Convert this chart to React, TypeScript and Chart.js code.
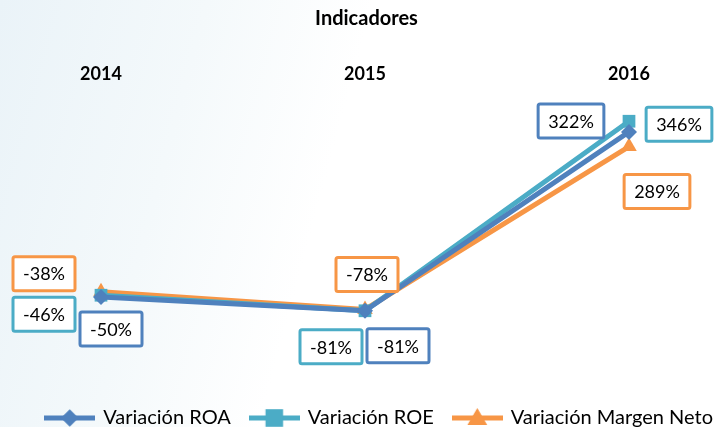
import React, { useEffect, useRef } from "react";
import { Chart, registerables } from "chart.js";

Chart.register(...registerables);

const categories = ["2014", "2015", "2016"];
const roa = [-50, -81, 322];
const roe = [-46, -81, 346];
const margenNeto = [-38, -78, 289];
const seriesNames = ["Variación ROA", "Variación ROE", "Variación Margen Neto"];

const COLORS = ["#4F81BD", "#4BACC6", "#F79646"];
const FONT = "Lato, 'Open Sans', sans-serif";

// label offsets (dx, dy) from each point, per series
const labelOffsets = [
  [[10, 32], [33, 35], [-58, -11]],
  [[-57, 19], [-34, 36], [50, 3]],
  [[-57, -18], [2, -35], [28, 45]],
];

function drawMarker(ctx: CanvasRenderingContext2D, kind: number, x: number, y: number, color: string, s = 1) {
  ctx.fillStyle = color;
  ctx.beginPath();
  if (kind === 0) {
    const r = 8 * s;
    ctx.moveTo(x, y - r);
    ctx.lineTo(x + r, y);
    ctx.lineTo(x, y + r);
    ctx.lineTo(x - r, y);
  } else if (kind === 1) {
    const r = 8 * s;
    ctx.rect(x - r, y - r, 2 * r, 2 * r);
  } else {
    const r = 9 * s;
    ctx.moveTo(x, y - r);
    ctx.lineTo(x + r, y + r * 0.7);
    ctx.lineTo(x - r, y + r * 0.7);
  }
  ctx.closePath();
  ctx.fill();
}

function legendIcon(kind: number, color: string) {
  const c = document.createElement("canvas");
  c.width = 51;
  c.height = 20;
  const ctx = c.getContext("2d")!;
  ctx.strokeStyle = color;
  ctx.lineWidth = 5;
  ctx.beginPath();
  ctx.moveTo(0, 10);
  ctx.lineTo(51, 10);
  ctx.stroke();
  drawMarker(ctx, kind, 25.5, 10, color, 1.1);
  return c;
}

const boxLabels = {
  id: "boxLabels",
  afterDatasetsDraw(chart: any) {
    const ctx = chart.ctx as CanvasRenderingContext2D;
    ctx.save();
    ctx.font = `18px ${FONT}`;
    ctx.textAlign = "center";
    ctx.textBaseline = "middle";
    chart.data.datasets.forEach((ds: any, di: number) => {
      const meta = chart.getDatasetMeta(di);
      meta.data.forEach((pt: any, i: number) => {
        const [dx, dy] = labelOffsets[di][i];
        const text = `${ds.data[i]}%`;
        const cx = pt.x + dx;
        const cy = pt.y + dy;
        const w = ctx.measureText(text).width + 20;
        const h = 34;
        ctx.fillStyle = "#ffffff";
        ctx.strokeStyle = COLORS[di];
        ctx.lineWidth = 3;
        ctx.beginPath();
        (ctx as any).roundRect(cx - w / 2, cy - h / 2, w, h, 2);
        ctx.fill();
        ctx.stroke();
        ctx.fillStyle = "#000000";
        ctx.fillText(text, cx, cy + 1);
      });
    });
    ctx.restore();
  },
};

export default function App() {
  const ref = useRef<HTMLCanvasElement>(null);
  useEffect(() => {
    document.body.style.margin = "0";
    const icons = [0, 1, 2].map((k) => legendIcon(k, COLORS[k]));
    const mk = (label: string, data: number[], k: number, style: string, radius: number) => ({
      label,
      data,
      borderColor: COLORS[k],
      backgroundColor: COLORS[k],
      borderWidth: 5,
      pointStyle: style,
      pointRadius: radius,
      pointBorderWidth: 0,
      pointBackgroundColor: COLORS[k],
      tension: 0,
      clip: false as any,
      yAxisID: "y",
    });
    const chart = new Chart(ref.current!, {
      type: "line",
      data: {
        labels: categories,
        datasets: [
          mk(seriesNames[0], roa, 0, "rectRot", 8),
          mk(seriesNames[1], roe, 1, "rect", 9),
          mk(seriesNames[2], margenNeto, 2, "triangle", 9),
        ],
      },
      options: {
        animation: false,
        responsive: false,
        layout: { padding: { left: 0, right: -16, top: 0, bottom: -11 } },
        plugins: {
          title: {
            display: true,
            text: "Indicadores",
            color: "#000",
            font: { family: FONT, size: 20, weight: "bold" },
            padding: { top: 7, bottom: 22 },
          },
          legend: {
            position: "bottom",
            align: "end",
            labels: {
              usePointStyle: true,
              pointStyleWidth: 47,
              color: "#000",
              font: { family: FONT, size: 20 },
              padding: 20,
              generateLabels: () =>
                seriesNames.map((n, k) => ({
                  text: n,
                  pointStyle: icons[k] as any,
                  fillStyle: COLORS[k],
                  strokeStyle: COLORS[k],
                  lineWidth: 0,
                  datasetIndex: k,
                  hidden: false,
                })),
            },
          },
          tooltip: { enabled: false },
        },
        scales: {
          x: {
            position: "top",
            offset: false,
            grid: { display: false },
            border: { display: false },
            ticks: { color: "#000", font: { family: FONT, size: 18, weight: "bold" }, padding: 10 },
          },
          y: {
            position: "left",
            min: -255,
            max: 388,
            grid: { display: false },
            border: { display: false },
            ticks: { display: false },
            afterFit: (s: any) => {
              s.width = 101;
            },
          },
          y2: {
            position: "right",
            min: -255,
            max: 388,
            grid: { display: false },
            border: { display: false },
            ticks: { display: false },
            afterFit: (s: any) => {
              s.width = 104;
            },
          },
        },
      },
      plugins: [boxLabels],
    });
    return () => chart.destroy();
  }, []);
  return (
    <div
      style={{
        width: 717,
        height: 427,
        background: "linear-gradient(105deg, #eaf3f8 0%, #f4f9fb 25%, #ffffff 45%, #ffffff 100%)",
      }}
    >
      <canvas ref={ref} width={717} height={427} />
    </div>
  );
}
